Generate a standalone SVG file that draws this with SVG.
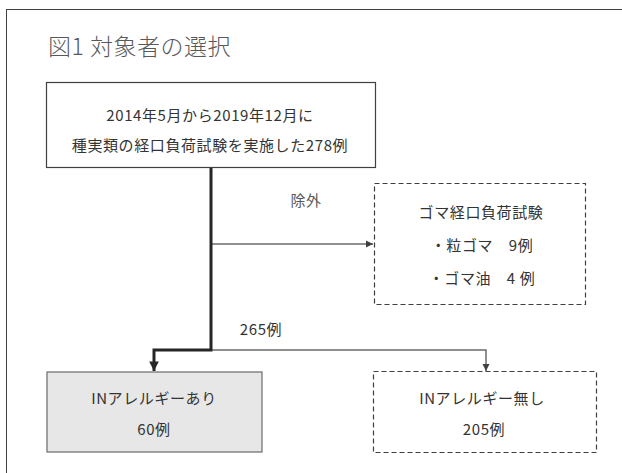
<svg xmlns="http://www.w3.org/2000/svg" width="622" height="473" viewBox="0 0 622 473">
<defs>
<style>
text{font-family:"Noto Sans CJK JP","Noto Sans",sans-serif;fill:#333;text-anchor:middle;dominant-baseline:central;font-size:15px;letter-spacing:0.6px}
.title{font-size:23px;fill:#595959;text-anchor:start;letter-spacing:0.5px;font-weight:300}
.box{fill:#fff;stroke:#404040;stroke-width:1.2}
.dash{fill:#fff;stroke:#404040;stroke-width:1.2;stroke-dasharray:5 3}
.gray{fill:#e7e7e7;stroke:#6b6b6b;stroke-width:1.2}
.thick{fill:none;stroke:#262626;stroke-width:3}
.thin{fill:none;stroke:#6b6b6b;stroke-width:1.5}
</style>
<marker id="ah" viewBox="0 0 10 10" refX="10" refY="5" markerWidth="3.2" markerHeight="3.2" orient="auto" markerUnits="strokeWidth">
<path d="M0,0 L10,5 L0,10 z" fill="#262626"/>
</marker>
<marker id="at" viewBox="0 0 10 10" refX="10" refY="5" markerWidth="5" markerHeight="5" orient="auto" markerUnits="strokeWidth">
<path d="M0,0 L10,5 L0,10 z" fill="#404040"/>
</marker>
</defs>
<rect x="6.5" y="9.5" width="700" height="500" fill="#fff" stroke="#404040" stroke-width="1"/>
<text class="title" x="48" y="45">図1 対象者の選択</text>
<g id="connectors">
<path class="thin" d="M211,244 H373"  marker-end="url(#at)"/>
<path class="thin" d="M211,350 H486 V371" marker-end="url(#at)"/>
<path class="thick" d="M211,167 V350 H154 V371" marker-end="url(#ah)"/>
<text x="306" y="199" style="fill:#595959">除外</text>
<text x="261" y="328">265例</text>
</g>
<g id="start">
<rect class="box" x="46.5" y="82.5" width="329" height="85"/>
<text x="210" y="114">2014年5月から2019年12月に</text>
<text x="210" y="144">種実類の経口負荷試験を実施した278例</text>
</g>
<g id="excluded">
<rect class="dash" x="374.5" y="183.5" width="211" height="121"/>
<text x="481" y="211">ゴマ経口負荷試験</text>
<text x="482" y="244">・粒ゴマ　9例</text>
<text x="482" y="277">・ゴマ油　4 例</text>
</g>
<g id="allergy-yes">
<rect class="gray" x="47" y="372" width="215" height="80"/>
<text x="154" y="397">INアレルギーあり</text>
<text x="154" y="428">60例</text>
</g>
<g id="allergy-no">
<rect class="dash" x="373.5" y="371.5" width="223" height="81"/>
<text x="482" y="397">INアレルギー無し</text>
<text x="484" y="428">205例</text>
</g>
</svg>
